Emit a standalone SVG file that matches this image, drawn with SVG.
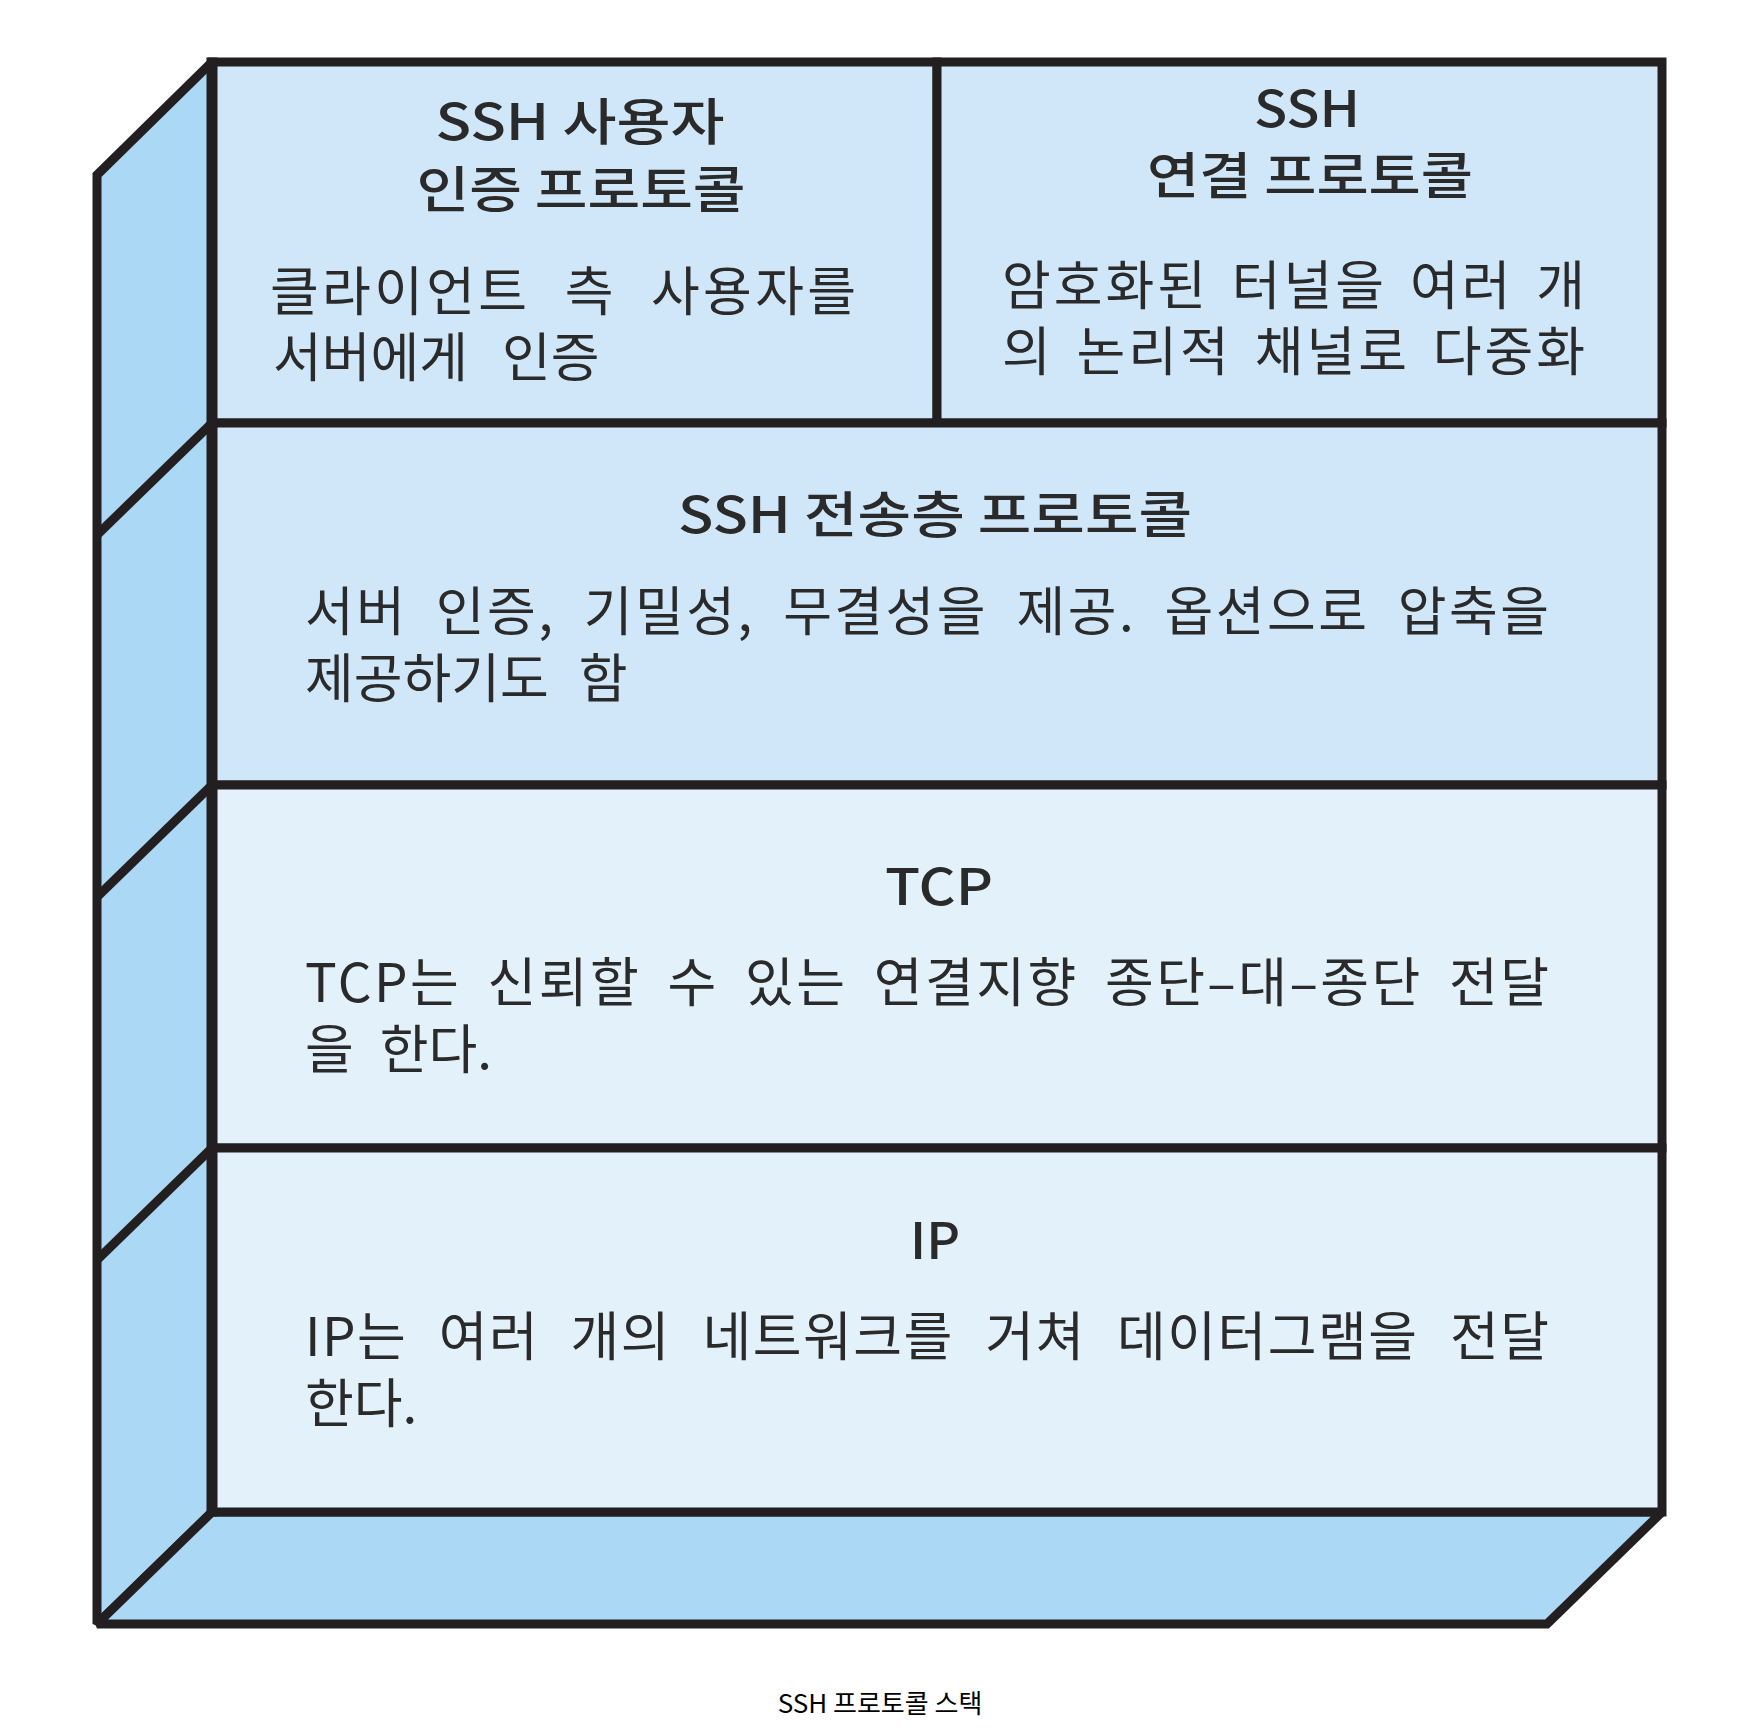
<svg xmlns="http://www.w3.org/2000/svg" width="1752" height="1732" viewBox="0 0 1752 1732">
  <style>
    .edge { stroke: #231f20; stroke-width: 9; stroke-linejoin: miter; stroke-miterlimit: 2; stroke-linecap: butt; }
    .side { fill: #abd8f5; }
    .upper { fill: #cfe7f9; }
    .lower { fill: #e3f1fb; }
    .title { font-family: "Noto Sans CJK KR", "Noto Sans", sans-serif; font-size: 50px; font-weight: 500; fill: #2a2a2a; }
    .body { font-family: "Noto Sans CJK KR", "Noto Sans", sans-serif; font-size: 53px; font-weight: 400; fill: #2a2a2a; word-spacing: 14px; }
    .caption { font-family: "Noto Sans CJK KR", "Noto Sans", sans-serif; font-size: 26px; font-weight: 400; fill: #000000; }
  </style>
  <rect width="1752" height="1732" fill="#ffffff"/>

  <g id="side-faces">
    <polygon class="side edge" points="212,62 97,175 97,1624 212,1512"/>
    <polygon class="side edge" points="212,1512 1662,1512 1547,1624 97,1624"/>
  </g>

  <g id="layer-user-auth">
    <rect class="upper edge" x="212" y="62" width="725" height="361"/>
    <text class="title" x="580" y="140" text-anchor="middle" textLength="289" lengthAdjust="spacingAndGlyphs">SSH 사용자</text>
    <text class="title" x="581" y="208" text-anchor="middle" textLength="329" lengthAdjust="spacingAndGlyphs">인증 프로토콜</text>
    <text class="body" x="270" y="311" textLength="586" lengthAdjust="spacing" style="word-spacing:19px">클라이언트 측 사용자를</text>
    <text class="body" x="273" y="377" style="word-spacing:22px">서버에게 인증</text>
  </g>

  <g id="layer-connection">
    <rect class="upper edge" x="937" y="62" width="725" height="361"/>
    <text class="title" x="1307" y="127" text-anchor="middle" textLength="106" lengthAdjust="spacingAndGlyphs">SSH</text>
    <text class="title" x="1310" y="194" text-anchor="middle" textLength="326" lengthAdjust="spacingAndGlyphs">연결 프로토콜</text>
    <text class="body" x="1002" y="305" textLength="583" lengthAdjust="spacing" style="word-spacing:8px">암호화된 터널을 여러 개</text>
    <text class="body" x="1002" y="371" textLength="583" lengthAdjust="spacing" style="word-spacing:8px">의 논리적 채널로 다중화</text>
  </g>

  <g id="layer-transport">
    <rect class="upper edge" x="212" y="423" width="1450" height="362"/>
    <text class="title" x="935" y="533" text-anchor="middle" textLength="514" lengthAdjust="spacingAndGlyphs">SSH 전송층 프로토콜</text>
    <text class="body" x="305" y="631" textLength="1244" lengthAdjust="spacing" style="word-spacing:14px">서버 인증, 기밀성, 무결성을 제공. 옵션으로 압축을</text>
    <text class="body" x="305" y="698" style="word-spacing:18px">제공하기도 함</text>
  </g>

  <g id="layer-tcp">
    <rect class="lower edge" x="212" y="785" width="1450" height="363"/>
    <text class="title" x="939" y="905" text-anchor="middle" textLength="108" lengthAdjust="spacingAndGlyphs">TCP</text>
    <text class="body" x="305" y="1002" textLength="1244" lengthAdjust="spacing" style="word-spacing:12px">TCP는 신뢰할 수 있는 연결지향 종단–대–종단 전달</text>
    <text class="body" x="305" y="1069" style="word-spacing:14px">을 한다.</text>
  </g>

  <g id="layer-ip">
    <rect class="lower edge" x="212" y="1148" width="1450" height="364"/>
    <text class="title" x="935" y="1259" text-anchor="middle" textLength="50" lengthAdjust="spacingAndGlyphs">IP</text>
    <text class="body" x="305" y="1356" textLength="1244" lengthAdjust="spacing" style="word-spacing:18px">IP는 여러 개의 네트워크를 거쳐 데이터그램을 전달</text>
    <text class="body" x="305" y="1423">한다.</text>
  </g>

  <g id="box-edges">
    <line class="edge" x1="212" y1="423" x2="97" y2="535"/>
    <line class="edge" x1="212" y1="785" x2="97" y2="897"/>
    <line class="edge" x1="212" y1="1148" x2="97" y2="1260"/>
    <line class="edge" x1="212" y1="57.5" x2="212" y2="1516.5" style="stroke-width:11"/>
  </g>

  <text id="caption" class="caption" x="880" y="1713" text-anchor="middle">SSH 프로토콜 스택</text>
</svg>
